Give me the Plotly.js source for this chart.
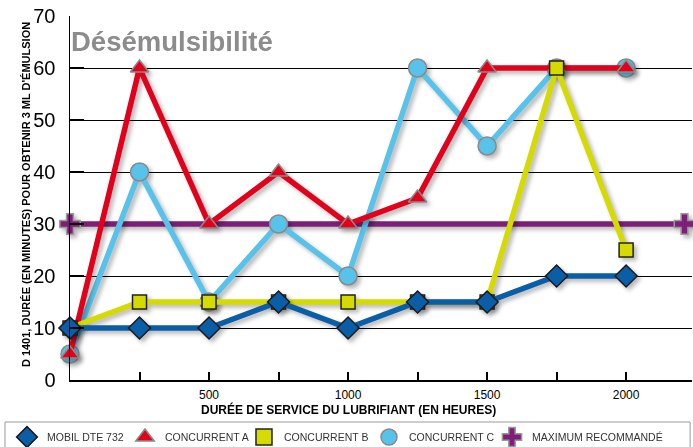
<!DOCTYPE html>
<html>
<head>
<meta charset="utf-8">
<script src="https://cdn.plot.ly/plotly-3.0.1.min.js"></script>
<style>
html,body{margin:0;padding:0;background:#fff;}
#chart{width:693px;height:447px;}
.cartesianlayer .scatterlayer .trace{filter:drop-shadow(3px 3px 2px rgba(0,0,0,0.28));}
</style>
</head>
<body>
<div id="chart"></div>
<script>
// Hours of lubricant service
const hours = [0, 250, 500, 750, 1000, 1250, 1500, 1750, 2000];
// D 1401 time (minutes) to reach 3 mL emulsion
const mobilDTE732   = [10, 10, 10, 15, 10, 15, 15, 20, 20];
const concurrentA   = [5, 60, 30, 40, 30, 35, 60, 60, 60];
const concurrentB   = [10, 15, 15, 15, 15, 15, 15, 60, 25];
const concurrentC   = [5, 40, 15, 30, 20, 60, 45, 60, 60];
const maxHours      = [0, 2210];
const maxValue      = [30, 30];

const seriesNames = ['MOBIL DTE 732', 'CONCURRENT A', 'CONCURRENT B', 'CONCURRENT C', 'MAXIMUM RECOMMANDÉ'];
const xTickVals = [0, 250, 500, 750, 1000, 1250, 1500, 1750, 2000];
const xTickText = ['', '', '500', '', '1000', '', '1500', '', '2000'];
const yTickVals = [0, 10, 20, 30, 40, 50, 60, 70];

const FONT = 'Liberation Sans, Arial, Helvetica, sans-serif';
const C = {
  blue: '#0a5ea8', red: '#e2001a', yellow: '#d5da00', cyan: '#58c3ea', purple: '#7d1f77'
};

function series(x, y, color, symbol, size, lineColor, name) {
  return {
    x: x, y: y, type: 'scatter', mode: 'lines+markers', name: name, showlegend: false,
    cliponaxis: false,
    line: {color: color, width: 5.5},
    marker: {color: color, symbol: symbol, size: size, line: {color: lineColor, width: 1.5}}
  };
}
function legendItem(color, symbol, lineColor, name, rank, w) {
  const t = {
    x: [null], y: [null], type: 'scatter', mode: 'markers', name: name, showlegend: true,
    legendrank: rank,
    marker: {color: color, symbol: symbol, size: 16, line: {color: lineColor, width: 1.5}}
  };
  if (w) t.legendwidth = w;
  return t;
}

const data = [
  series(maxHours, maxValue, C.purple, 'cross', 17, '#9a9a9a', seriesNames[4]),
  series(hours, concurrentC, C.cyan, 'circle', 18, '#8a8a8a', seriesNames[3]),
  series(hours, concurrentA, C.red, 'triangle-up', 16, '#8a8a8a', seriesNames[1]),
  series(hours, concurrentB, C.yellow, 'square', 14, '#222', seriesNames[2]),
  series(hours, mobilDTE732, C.blue, 'diamond', 17, '#1a1a1a', seriesNames[0]),
  legendItem(C.blue, 'diamond', '#1a1a1a', seriesNames[0], 1, 73),
  legendItem(C.red, 'triangle-up', '#8a8a8a', seriesNames[1], 2, 74),
  legendItem(C.yellow, 'square', '#222', seriesNames[2], 3, 80),
  legendItem(C.cyan, 'circle', '#8a8a8a', seriesNames[3], 4, 78),
  legendItem(C.purple, 'cross', '#9a9a9a', seriesNames[4], 5, 0)
];

const layout = {
  width: 693, height: 447,
  margin: {l: 70, r: 1, t: 16, b: 67, pad: 0, autoexpand: false},
  paper_bgcolor: '#fff', plot_bgcolor: '#fff',
  font: {family: FONT, color: '#000'},
  showlegend: true,
  legend: {
    orientation: 'h', xref: 'paper', yref: 'paper',
    x: -0.1013, xanchor: 'left', y: -0.1566, yanchor: 'middle',
    font: {family: FONT, size: 10.5, color: '#333'},
    bgcolor: 'rgba(0,0,0,0)', borderwidth: 0, traceorder: 'normal'
  },
  xaxis: {
    range: [0, 2237], showgrid: false, zeroline: false,
    showline: true, linecolor: '#000', linewidth: 2,
    tickmode: 'array', tickvals: xTickVals, ticktext: xTickText,
    ticks: 'inside', ticklen: 8, tickwidth: 2, tickcolor: '#000',
    tickfont: {family: FONT, size: 12, color: '#000'}, ticklabelstandoff: 3
  },
  yaxis: {
    range: [0, 70], showgrid: true, gridcolor: '#000', gridwidth: 1, zeroline: false,
    showline: true, linecolor: '#000', linewidth: 1.5,
    tickmode: 'array', tickvals: yTickVals,
    ticks: 'inside', ticklen: 14, tickwidth: 1.5, tickcolor: '#000',
    tickfont: {family: FONT, size: 20, color: '#000'}, ticklabelstandoff: 9
  },
  shapes: [
    {type: 'rect', xref: 'paper', yref: 'paper', x0: -0.1045, x1: 0.997, y0: -0.2, y1: -0.1154,
     line: {color: '#9a9a9a', width: 1}, fillcolor: 'rgba(0,0,0,0)', layer: 'below'}
  ],
  annotations: [
    {text: '<b>Désémulsibilité</b>', xref: 'paper', yref: 'paper', x: -0.002, y: 0.929,
     xanchor: 'left', yanchor: 'middle', showarrow: false,
     font: {family: FONT, size: 27.5, color: '#8c8c8c'}},
    {text: '<b>DURÉE DE SERVICE DU LUBRIFIANT (EN HEURES)</b>', xref: 'x', yref: 'paper',
     x: 1000, y: -0.0797, xanchor: 'center', yanchor: 'middle', showarrow: false,
     font: {family: FONT, size: 12, color: '#000'}},
    {text: '<b>D 1401, DURÉE (EN MINUTES) POUR OBTENIR 3 ML D\'ÉMULSION</b>', xref: 'paper', yref: 'paper',
     x: -0.0707, y: 0.508, xanchor: 'center', yanchor: 'middle', textangle: -90, showarrow: false,
     font: {family: FONT, size: 11, color: '#000'}}
  ]
};

Plotly.newPlot('chart', data, layout, {displayModeBar: false, staticPlot: true});
</script>
</body>
</html>
